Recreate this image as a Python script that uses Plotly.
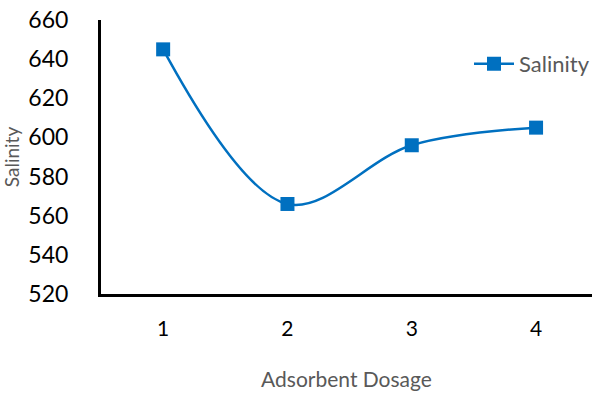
import plotly.graph_objects as go

# Salinity measured at each adsorbent dosage
dosage = [1, 2, 3, 4]
salinity = [645, 566, 596, 605]
y_ticks = [520, 540, 560, 580, 600, 620, 640, 660]

blue = "#0070C0"
grey = "#595959"
font_family = "Lato, 'Open Sans', sans-serif"

fig = go.Figure()
fig.add_trace(go.Scatter(
    x=dosage, y=salinity, name="Salinity",
    mode="lines+markers",
    line=dict(color=blue, width=2.5, shape="spline", smoothing=1.0),
    marker=dict(symbol="square", size=14, color=blue),
))

fig.update_layout(
    width=595, height=394,
    margin=dict(l=101, r=0, t=20, b=100),
    paper_bgcolor="white", plot_bgcolor="white",
    font=dict(family=font_family, color="black"),
    showlegend=True,
    legend=dict(x=0.75, y=0.84, xanchor="left", yanchor="middle",
                font=dict(size=22, color=grey), bgcolor="rgba(0,0,0,0)",
                itemwidth=40),
    xaxis=dict(
        range=[0.5, 4.45], tickvals=dosage, ticktext=[str(d) for d in dosage],
        showgrid=False, zeroline=False,
        showline=True, linecolor="black", linewidth=3,
        ticks="", tickfont=dict(size=21, color="black"),
        ticklabelstandoff=14,
        title=dict(text="Adsorbent Dosage", font=dict(size=21, color=grey), standoff=34),
    ),
    yaxis=dict(
        range=[520, 660], tickvals=y_ticks,
        showgrid=False, zeroline=False,
        showline=True, linecolor="black", linewidth=3,
        ticks="", tickfont=dict(size=23, color="black"),
        ticklabelstandoff=25,
        title=dict(text="Salinity", font=dict(size=19, color=grey), standoff=8),
    ),
)

fig.write_html("out.html")
